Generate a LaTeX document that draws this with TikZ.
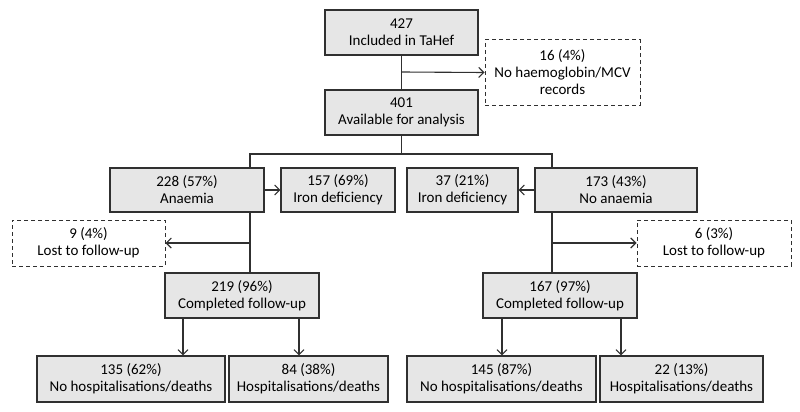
\documentclass[tikz,border=0pt]{standalone}
\usepackage{fontspec}
\setmainfont{Carlito}
\usetikzlibrary{arrows.meta}
\definecolor{boxfill}{HTML}{E6E6E6}
\definecolor{linec}{HTML}{303030}
\begin{document}
\begin{tikzpicture}[x=1pt,y=-1pt,
  every node/.style={font=\fontsize{15}{17}\selectfont, text=black},
  solidbox/.style={draw=linec, line width=1.1pt, fill=boxfill, align=center, inner sep=0pt},
  dashbox/.style={draw=linec, line width=1pt, dashed, dash pattern=on 4pt off 3pt, fill=white, align=center, inner sep=0pt},
  conn/.style={draw=linec, line width=1.1pt},
  arr/.style={conn, -{Straight Barb[length=5pt,width=10pt]}}]
\useasboundingbox (0,0) rectangle (800,412);
\node[solidbox, minimum width=153pt, minimum height=45pt] (inc) at (401.5,32.5) {427\\Included in TaHef};
\node[dashbox, minimum width=155pt, minimum height=65pt] (excl) at (562.5,72.5) {16 (4\%)\\No haemoglobin/MCV\\records};
\node[solidbox, minimum width=153pt, minimum height=45pt] (avail) at (401.5,112.5) {401\\Available for analysis};
\node[solidbox, minimum width=154pt, minimum height=44pt] (anae) at (187,190) {228 (57\%)\\Anaemia};
\node[solidbox, minimum width=114pt, minimum height=44pt] (idl) at (338,190) {157 (69\%)\\Iron deficiency};
\node[solidbox, minimum width=111pt, minimum height=44pt] (idr) at (462.5,190) {37 (21\%)\\Iron deficiency};
\node[solidbox, minimum width=162pt, minimum height=44pt] (noan) at (616,190) {173 (43\%)\\No anaemia};
\node[dashbox, minimum width=153pt, minimum height=46pt] (lostl) at (88.5,243) {9 (4\%)\\Lost to follow-up};
\node[dashbox, minimum width=154pt, minimum height=46pt] (lostr) at (714,243) {6 (3\%)\\Lost to follow-up};
\node[solidbox, minimum width=154pt, minimum height=45pt] (compl) at (242,295.5) {219 (96\%)\\Completed follow-up};
\node[solidbox, minimum width=154pt, minimum height=45pt] (compr) at (560,295.5) {167 (97\%)\\Completed follow-up};
\node[solidbox, minimum width=188pt, minimum height=46pt] (b1) at (131,379) {135 (62\%)\\No hospitalisations/deaths};
\node[solidbox, minimum width=159pt, minimum height=46pt] (b2) at (308.5,379) {84 (38\%)\\Hospitalisations/deaths};
\node[solidbox, minimum width=189pt, minimum height=46pt] (b3) at (501.5,379) {145 (87\%)\\No hospitalisations/deaths};
\node[solidbox, minimum width=163pt, minimum height=46pt] (b4) at (681.5,379) {22 (13\%)\\Hospitalisations/deaths};
% coordinates
\coordinate (jt) at (401.5,72);
\coordinate (jl) at (250,154);
\coordinate (jr) at (552,154);
\coordinate (ml) at (250,243);
\coordinate (mr) at (552,243);
\coordinate (a1) at (183,0);
\coordinate (a2) at (299,0);
\coordinate (a3) at (502,0);
\coordinate (a4) at (621,0);
% connectors
\draw[conn] (inc.south) -- (avail.north);
\draw[arr] (jt) -- (excl.west);
\draw[conn] (avail.south) -- (avail.south |- jl);
\draw[conn] (jl |- anae.north) -- (jl) -- (jr) -- (jr |- noan.north);
\draw[arr] (anae.east) -- (idl.west);
\draw[arr] (noan.west) -- (idr.east);
\draw[conn] (jl |- anae.south) -- (jl |- compl.north);
\draw[conn] (jr |- noan.south) -- (jr |- compr.north);
\draw[arr] (ml) -- (lostl.east);
\draw[arr] (mr) -- (lostr.west);
\draw[arr] (compl.south -| a1) -- (b1.north -| a1);
\draw[arr] (compl.south -| a2) -- (b2.north -| a2);
\draw[arr] (compr.south -| a3) -- (b3.north -| a3);
\draw[arr] (compr.south -| a4) -- (b4.north -| a4);
\end{tikzpicture}
\end{document}
